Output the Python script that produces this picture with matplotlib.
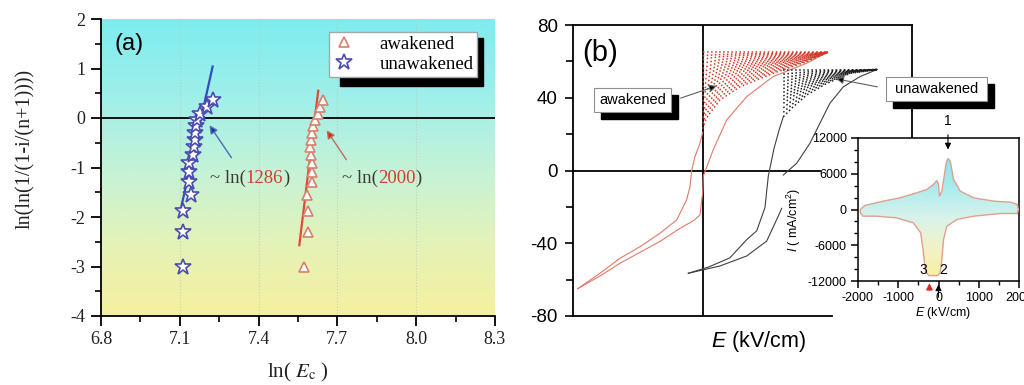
import numpy as np
import matplotlib.pyplot as plt
from matplotlib.colors import LinearSegmentedColormap
from matplotlib.patches import Rectangle, Polygon
from matplotlib.ticker import MultipleLocator, FixedLocator

plt.rcParams['axes.unicode_minus'] = False
plt.rcParams['mathtext.fontset'] = 'custom'
plt.rcParams['mathtext.rm'] = 'Liberation Sans'
plt.rcParams['mathtext.it'] = 'Liberation Sans:italic'

W, H = 1024, 385

# ---- (a) Weibull plot ----
weib_y = [-3.02, -2.30, -1.87, -1.55, -1.30, -1.09, -0.90, -0.74,
          -0.58, -0.44, -0.30, -0.17, -0.04, 0.09, 0.23, 0.36]
unawake_lnE = [7.111, 7.113, 7.111, 7.141, 7.134, 7.136, 7.134, 7.152,
               7.153, 7.156, 7.158, 7.162, 7.166, 7.178, 7.202, 7.228]
awake_lnE = [7.573, 7.589, 7.589, 7.585, 7.602, 7.602, 7.602, 7.598,
             7.596, 7.598, 7.602, 7.608, 7.615, 7.627, 7.634, 7.644]
unawake_fit_x = [7.100, 7.225]
unawake_fit_y = [-1.93, 1.04]
awake_fit_x = [7.555, 7.627]
awake_fit_y = [-2.57, 0.55]
a_xticks = [6.8, 7.1, 7.4, 7.7, 8.0, 8.3]

# ---- (b) P-E loops ----
red_up_E = [-1000, -822, -662, -502, -342, -182, -74, -22, 0, 5, 82, 192, 352, 562, 832, 1000]
red_up_P = [-65, -58, -51, -45, -39, -31.8, -27.6, -24.5, -12, -3, 11, 27.8, 40.6, 51.6, 59, 65]
red_dn_E = [0, -22, -62, -88, -102, -128, -208, -342, -502, -662, -822, -1000]
red_dn_P = [21, 15, 7.6, 0, -8.9, -16, -27.2, -34.5, -41.9, -48.3, -56.5, -65]
red_edge_E = [0, 25, 56, 138, 298, 562, 830, 1000]
red_edge_P = [23, 28, 31.4, 38.8, 46, 53.4, 59.8, 65]
red_top = 65
red_fan = [23, 26, 29, 32, 35, 38, 41, 43.5, 46, 48.5, 51, 53.5, 56, 58.5, 61, 63, 65]

blk_up1_E = [-115, 138, 352, 512, 605, 632]
blk_up1_P = [-56.5, -52.5, -47, -38.8, -25, -20.8]
blk_up2_E = [645, 752, 858, 938, 1018, 1125, 1258, 1397]
blk_up2_P = [-2.5, 4, 15, 26, 37, 46, 51.6, 55.6]
blk_dn_E = [645, 610, 570, 525, 498, 432, 352, 218, 50, -115]
blk_dn_P = [29.6, 22, 12, -3, -20.4, -33.2, -38, -48, -53, -56.5]
blk_edge_E = [645, 725, 832, 992, 1178, 1392]
blk_edge_P = [29.6, 35.1, 41.5, 47.9, 53.4, 55.5]
blk_top = 55.5
blk_fan = [29.6, 32, 34.5, 37, 39, 41, 43, 45, 47, 49, 51, 53, 55.5]

# ---- inset I-E loop ----
cur_up_E = [-1942, -1833, -1375, -958, -542, -292, -125, -42, 0, 25, 83, 142, 192,
            233, 292, 375, 542, 875, 1375, 1792, 1958, 1985]
cur_up_I = [0, 670, 1400, 1960, 2800, 3360, 4200, 4870, 4200, 2240, 3080, 5600, 7840,
            8570, 8120, 5040, 3080, 1960, 1400, 1230, 840, 0]
cur_lo_E = [1958, 1542, 875, 458, 208, 125, 83, 42, -17, -242, -325, -375, -442,
            -625, -1042, -1542, -1875, -1942]
cur_lo_I = [-672, -672, -1120, -1680, -2800, -5040, -8400, -10640, -11090, -11090,
            -10360, -7280, -3920, -2240, -1400, -1120, -1120, -560]


def box(l, t, r, b):
    return [l / W, 1 - b / H, (r - l) / W, (b - t) / H]


bg_cmap = LinearSegmentedColormap.from_list(
    'bg', ['#F6F0A0', '#E4F2B8', '#C4F2D8', '#9EEFEA', '#7EECEF'])
inset_cmap = LinearSegmentedColormap.from_list(
    'ins', ['#F8F0A0', '#F2F2C8', '#D8F2EC', '#A8ECEC', '#88E6EA'])

fig = plt.figure(figsize=(W / 100, H / 100), dpi=100)

# ================= panel (a) =================
ax = fig.add_axes(box(101, 19, 495, 316))
ax.set_xlim(6.8, 8.3)
ax.set_ylim(-4, 2)
grad = np.linspace(0, 1, 256).reshape(-1, 1)
ax.imshow(grad, extent=(6.8, 8.3, -4, 2), origin='lower', aspect='auto',
          cmap=bg_cmap, zorder=0)
for gx in a_xticks[1:-1]:
    ax.axvline(gx, color='#B8C8B0', lw=0.8, ls=':', alpha=0.7, zorder=1)
ax.axhline(0, color='black', lw=1.3, zorder=2)

ax.plot(unawake_fit_x, unawake_fit_y, color='#2F4FC0', lw=1.6, zorder=3)
ax.plot(awake_fit_x, awake_fit_y, color='#E04A3A', lw=1.6, zorder=3)
ax.plot(awake_lnE, weib_y, ls='none', marker='^', ms=7.5, mfc='white',
        mec='#D9806E', mew=1.2, label='awakened', zorder=4)
ax.plot(unawake_lnE, weib_y, ls='none', marker='*', ms=12, mfc='white',
        mec='#4A4AB0', mew=1.2, label='unawakened', zorder=4)

ax.annotate('', xy=(7.207, -0.10), xytext=(7.3025, -0.848),
            arrowprops=dict(arrowstyle='-|>', color='#4A6CB8', lw=1.0,
                            mutation_scale=12, fc='#1830A0'))
ax.annotate('', xy=(7.653, -0.20), xytext=(7.740, -0.889),
            arrowprops=dict(arrowstyle='-|>', color='#B87060', lw=1.0,
                            mutation_scale=12, fc='#E02010'))

for x0, num in [(7.215, '1286'), (7.7175, '2000')]:
    t1 = ax.text(x0, -1.21, '~ ln(', family='Liberation Serif', fontsize=13.5,
                 color='#3A3A30', va='center', zorder=5)
    t2 = ax.annotate(num, xy=(1, 0), xycoords=t1, va='bottom', ha='left',
                     family='Liberation Serif', fontsize=13.5, color='#D04030')
    ax.annotate(')', xy=(1, 0), xycoords=t2, va='bottom', ha='left',
                family='Liberation Serif', fontsize=13.5, color='#3A3A30')

ax.text(0.035, 0.915, '(a)', transform=ax.transAxes, family='Liberation Sans',
        fontsize=17, va='center', ha='left')

leg = ax.legend(loc='upper right', bbox_to_anchor=(0.9543, 0.9562), borderaxespad=0,
                prop={'family': 'Liberation Serif', 'size': 13.5}, handlelength=1.2,
                handletextpad=1.3, labelspacing=0.15, borderpad=0.2,
                fancybox=False, framealpha=1, edgecolor='#A0A8A8')
leg.get_frame().set_linewidth(1.0)
leg.set_zorder(6)
ax.add_patch(Rectangle((0.6066, 0.7744), 0.363, 0.1616, transform=ax.transAxes,
                       color='black', zorder=5.5))

ax.xaxis.set_major_locator(FixedLocator(a_xticks))
ax.xaxis.set_minor_locator(FixedLocator([6.95, 7.25, 7.55, 7.85, 8.15]))
ax.yaxis.set_major_locator(MultipleLocator(1))
ax.yaxis.set_minor_locator(MultipleLocator(0.5))
ax.xaxis.set_major_formatter(plt.FormatStrFormatter('%.1f'))
ax.tick_params(which='major', length=7, width=1.3, direction='out', labelsize=13, pad=4)
ax.tick_params(which='minor', length=4, width=1.2, direction='out')
for lab in ax.get_xticklabels() + ax.get_yticklabels():
    lab.set_family('Liberation Serif')
    lab.set_color('#222222')
for s in ['top', 'right']:
    ax.spines[s].set_visible(False)
for s in ['left', 'bottom']:
    ax.spines[s].set_linewidth(1.3)

ax.set_ylabel('ln(ln(1/(1-i/(n+1))))', family='Liberation Serif', fontsize=14.5,
              color='#222222')
ax.yaxis.set_label_coords(-0.168, 0.564)
fig.text(298 / W, 8 / H, r'ln( $E_{\rm c}$ )', family='Liberation Serif',
         math_fontfamily='stix', fontsize=15, ha='center', va='baseline', color='#222222')

# ================= panel (b) =================
bx = fig.add_axes(box(573, 25, 912, 316))
bx.set_xlim(-1037.6, 1674.4)
bx.set_ylim(-80, 80)
bx.axvline(0, color='black', lw=1.3, zorder=2)
bx.axhline(0, xmax=0.7286, color='black', lw=1.3, zorder=2)

bx.plot(red_up_E, red_up_P, color='#E07A6A', lw=0.8, zorder=3)
bx.plot(red_dn_E, red_dn_P, color='#E07A6A', lw=0.8, zorder=3)
edge = np.array(red_edge_P)
for lvl in red_fan:
    frac = (red_top - lvl) / (red_top - red_edge_P[0])
    bx.plot(red_edge_E, red_top - (red_top - edge) * frac, ls=':', lw=1.1,
            color='#D03A2A', zorder=3)

bx.plot(blk_up1_E, blk_up1_P, color='#404040', lw=0.8, zorder=3)
bx.plot(blk_up2_E, blk_up2_P, color='#404040', lw=0.8, zorder=3)
bx.plot(blk_dn_E, blk_dn_P, color='#404040', lw=0.8, zorder=3)
edge = np.array(blk_edge_P)
for lvl in blk_fan:
    frac = (blk_top - lvl) / (blk_top - blk_edge_P[0])
    bx.plot(blk_edge_E, blk_top - (blk_top - edge) * frac, ls=':', lw=1.1,
            color='#202020', zorder=3)

bx.text(0.026, 0.905, '(b)', transform=bx.transAxes, family='Liberation Sans',
        fontsize=21, va='center', ha='left')

bx.yaxis.set_major_locator(MultipleLocator(40))
bx.yaxis.set_minor_locator(MultipleLocator(20))
bx.set_xticks([])
bx.tick_params(axis='y', which='major', length=6, width=1.2, direction='out',
               labelsize=13.5, pad=5)
bx.tick_params(axis='y', which='minor', length=5, width=1.2, direction='out')
for lab in bx.get_yticklabels():
    lab.set_family('Liberation Sans')
for s in bx.spines.values():
    s.set_linewidth(1.3)
bx.spines['right'].set_bounds(17.9, 80)
bx.spines['bottom'].set_bounds(-1037.6, 1034)
fig.text(758 / W, 1 - 342 / H, r'$E$ (kV/cm)', family='Liberation Sans', fontsize=15.5,
         ha='center', va='center')

# boxed labels with drop shadows
for (l, t, r, b), label in [((594, 88.3, 670.7, 111.7), 'awakened'),
                            ((886, 77.3, 986.7, 100.7), 'unawakened')]:
    fig.add_artist(Rectangle(((l + 7) / W, 1 - (b + 7) / H), (r - l) / W, (b - t) / H,
                             transform=fig.transFigure, color='black', zorder=4))
    fig.add_artist(Rectangle((l / W, 1 - b / H), (r - l) / W, (b - t) / H,
                             transform=fig.transFigure, fc='white', ec='#909090',
                             lw=0.8, zorder=5))
    fig.text((l + r) / 2 / W, 1 - (t + b) / 2 / H, label, family='Liberation Sans',
             fontsize=10.5, ha='center', va='center', zorder=6)
bx.annotate('', xy=(133, 47.0), xytext=(-198, 39.3), annotation_clip=False,
            arrowprops=dict(arrowstyle='-|>', lw=0.8, ec='#606060', fc='black',
                            mutation_scale=11))
bx.annotate('', xy=(1045, 50.7), xytext=(1419, 45.7), annotation_clip=False,
            arrowprops=dict(arrowstyle='-|>', lw=0.8, ec='#606060', fc='black',
                            mutation_scale=11))

# ================= inset =================
ix = fig.add_axes(box(858, 138, 1019, 281))
ix.set_zorder(3)
ix.set_xlim(-2000, 2000)
ix.set_ylim(-12000, 12000)
loop_xy = np.column_stack([cur_up_E + cur_lo_E, cur_up_I + cur_lo_I])
loop = Polygon(loop_xy, closed=True, fc='none', ec='#E0A090', lw=1.0, zorder=3)
ix.add_patch(loop)
img = ix.imshow(grad, extent=(-2000, 2000, -11500, 9000), origin='lower', aspect='auto',
                cmap=inset_cmap, zorder=2)
img.set_clip_path(loop)
ix.set_xlim(-2000, 2000)
ix.set_ylim(-12000, 12000)

ix.annotate('', xy=(235, 9600), xytext=(235, 13000), annotation_clip=False,
            arrowprops=dict(arrowstyle='-|>', color='black', lw=0.8, mutation_scale=9))
ix.text(235, 13700, '1', fontsize=10, ha='center', va='bottom', family='Liberation Sans')
ix.annotate('', xy=(-225, -11900), xytext=(-225, -14000), annotation_clip=False,
            arrowprops=dict(arrowstyle='-|>', color='#E02020', lw=0.8, mutation_scale=10))
ix.annotate('', xy=(0, -12100), xytext=(0, -15200), annotation_clip=False,
            arrowprops=dict(arrowstyle='-|>', color='black', lw=0.8, mutation_scale=9))
ix.text(-390, -10100, '3', fontsize=10, ha='center', va='center', family='Liberation Sans')
ix.text(125, -10100, '2', fontsize=10, ha='center', va='center', family='Liberation Sans')

ix.xaxis.set_major_locator(MultipleLocator(1000))
ix.xaxis.set_minor_locator(MultipleLocator(500))
ix.yaxis.set_major_locator(MultipleLocator(6000))
ix.yaxis.set_minor_locator(MultipleLocator(2000))
ix.tick_params(which='major', length=5, width=1.1, direction='out', labelsize=9, pad=3)
ix.tick_params(which='minor', length=3, width=1.0, direction='out')
for lab in ix.get_xticklabels() + ix.get_yticklabels():
    lab.set_family('Liberation Sans')
for s in ix.spines.values():
    s.set_linewidth(1.1)
ix.set_xlabel(r'$E$ (kV/cm)', family='Liberation Sans', fontsize=9)
ix.xaxis.set_label_coords(0.53, -0.17)
ix.set_ylabel(r'$I$ ( mA/cm$^2$)', family='Liberation Sans', fontsize=9)
ix.yaxis.set_label_coords(-0.34, 0.43)

fig.savefig('out.png', dpi=100)
